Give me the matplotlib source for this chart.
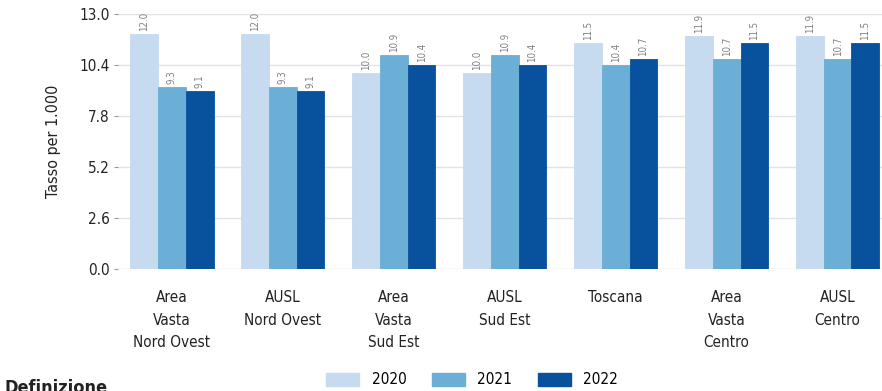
import numpy as np
import matplotlib
matplotlib.use("Agg")
import matplotlib.pyplot as plt
from matplotlib.patches import Patch

plt.rcParams['font.family'] = ['DejaVu Sans']
plt.rcParams['font.stretch'] = 'condensed'

# data
categories = ["Area\nVasta\nNord Ovest", "AUSL\nNord Ovest", "Area\nVasta\nSud Est",
              "AUSL\nSud Est", "Toscana", "Area\nVasta\nCentro", "AUSL\nCentro"]
years = ["2020", "2021", "2022"]
v2020 = [12.0, 12.0, 10.0, 10.0, 11.5, 11.9, 11.9]
v2021 = [9.3, 9.3, 10.9, 10.9, 10.4, 10.7, 10.7]
v2022 = [9.1, 9.1, 10.4, 10.4, 10.7, 11.5, 11.5]
colors = ["#c6dbef", "#6baed6", "#08519c"]
yticks = [0.0, 2.6, 5.2, 7.8, 10.4, 13.0]

fig = plt.figure(figsize=(8.82, 3.91), dpi=100)
ax = fig.add_axes([118/882, 1 - 269/391, 1 - 118/882, (269 - 14)/391])

x = np.arange(len(categories))
w = 0.25
for i, (vals, c) in enumerate(zip([v2020, v2021, v2022], colors)):
    xs = x + (i - 1) * w
    ax.bar(xs, vals, width=w, color=c, edgecolor=c, linewidth=0.6, zorder=2)
    for xx, v in zip(xs, vals):
        ax.text(xx, v + 0.15, f"{v:.1f}", rotation=90, ha='center', va='bottom',
                fontsize=7, color='#808080')

ax.set_xlim(-0.486, 6.4)
ax.set_ylim(0, 13)
ax.set_yticks(yticks)
ax.set_yticklabels([f"{t:.1f}" for t in yticks], fontsize=11, color='#222222')
ax.set_xticks(x)
ax.set_xticklabels(categories, fontsize=11, color='#222222', linespacing=1.65)
ax.tick_params(axis='x', length=0, pad=15)
ax.tick_params(axis='y', length=3, width=0.8, color='#999999', pad=3)
ax.grid(axis='y', color='#e3e3e3', linewidth=1, zorder=0)
for s in ax.spines.values():
    s.set_visible(False)
ax.set_ylabel("Tasso per 1.000", fontsize=11.5, color='#222222', labelpad=13)

handles = [Patch(facecolor=c, edgecolor=c) for c in colors]
fig.legend(handles, years, loc='center', bbox_to_anchor=(472/882, 1 - 380/391),
           ncol=3, frameon=False, fontsize=11, handlelength=2.2, handleheight=0.9,
           columnspacing=1.65, handletextpad=0.8)

fig.text(4/882, 1 - 379/391, "Definizione", fontsize=13, fontweight='bold',
         va='top', ha='left', color='#222222')

fig.savefig("out.png", dpi=100)
